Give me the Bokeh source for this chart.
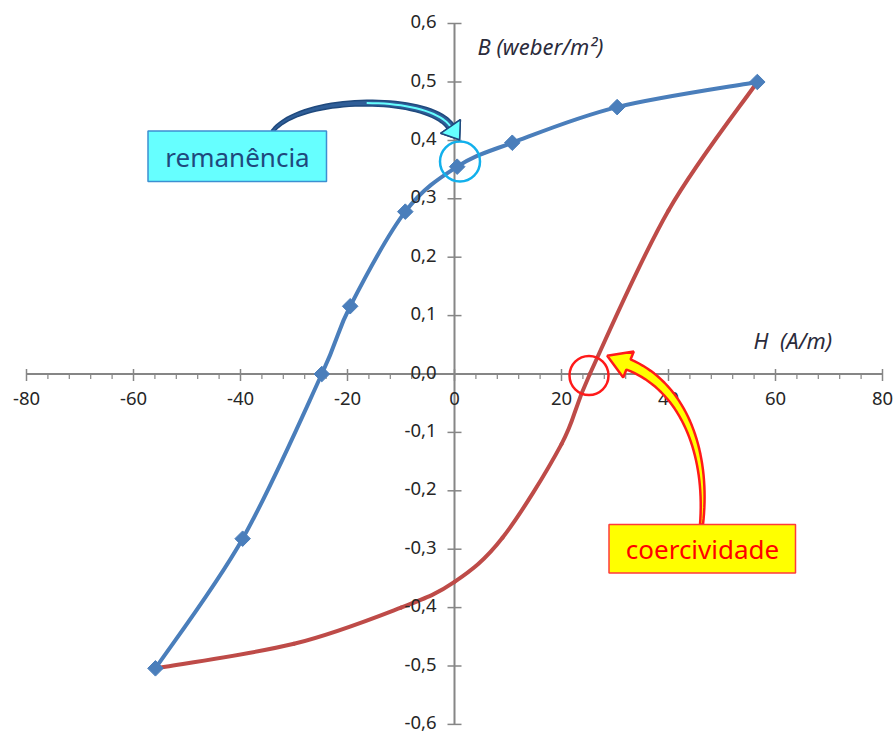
import numpy as np
from bokeh.plotting import figure
from bokeh.models import Range1d
from bokeh.core.properties import value
from bokeh.embed import file_html
from bokeh.resources import INLINE

# --- data -------------------------------------------------------------------
# descending branch of the hysteresis loop (blue, with markers)
H_down = [56.6, 30.4, 10.8, 0.5, -9.2, -19.5, -24.8, -39.6, -55.9]
B_down = [0.50, 0.457, 0.396, 0.355, 0.278, 0.116, 0.0, -0.282, -0.504]
# ascending branch (red, no markers)
H_up = [-55.9, -30.0, -10.0, 0.0, 9.0, 20.0, 25.3, 40.0, 56.6]
B_up = [-0.504, -0.462, -0.40, -0.356, -0.28, -0.12, 0.0, 0.28, 0.50]

x_ticks = [-80, -60, -40, -20, 0, 20, 40, 60, 80]
x_tick_labels = ["-80", "-60", "-40", "-20", "0", "20", "40", "60", "80"]
x_minor_ticks = [v for v in range(-80, 81, 4) if v % 20 != 0]
y_ticks = [-0.6, -0.5, -0.4, -0.3, -0.2, -0.1, 0.0, 0.1, 0.2, 0.3, 0.4, 0.5, 0.6]
y_tick_labels = ["-0,6", "-0,5", "-0,4", "-0,3", "-0,2", "-0,1", "0,0",
                 "0,1", "0,2", "0,3", "0,4", "0,5", "0,6"]

# --- canvas geometry (screen px <-> data) ----------------------------------
W, HGT = 895, 735
ORIGIN_PX, ORIGIN_PY = 454.0, 373.5
SX, SY = 5.35, 584.0          # px per H unit, px per B unit


def dx(px):
    return (px - ORIGIN_PX) / SX


def dy(py):
    return (ORIGIN_PY - py) / SY


p = figure(width=W, height=HGT, output_backend="svg", toolbar_location=None,
           x_range=Range1d(dx(0), dx(W)), y_range=Range1d(dy(HGT), dy(0)),
           x_axis_location=None, y_axis_location=None, min_border=0)
p.xgrid.visible = False
p.ygrid.visible = False
p.outline_line_color = None
p.background_fill_color = "white"
p.border_fill_color = "white"

AXIS = "#868686"
FONT = value("Noto Sans")
TICK_TEXT = "#262626"

# --- axes crossing at the origin -------------------------------------------
p.segment(x0=[x_ticks[0]], y0=[0], x1=[x_ticks[-1]], y1=[0], line_color=AXIS, line_width=2)
p.segment(x0=[0], y0=[y_ticks[0]], x1=[0], y1=[y_ticks[-1]], line_color=AXIS, line_width=2)
# major ticks on H axis cross the line, minor ones hang below it
p.segment(x0=x_ticks, y0=[5 / SY] * len(x_ticks), x1=x_ticks, y1=[-7 / SY] * len(x_ticks),
          line_color=AXIS, line_width=1.5)
p.segment(x0=x_minor_ticks, y0=[0] * len(x_minor_ticks), x1=x_minor_ticks,
          y1=[-5 / SY] * len(x_minor_ticks), line_color=AXIS, line_width=1.2)
p.segment(x0=[-7 / SX] * len(y_ticks), y0=y_ticks, x1=[7 / SX] * len(y_ticks), y1=y_ticks,
          line_color=AXIS, line_width=1.5)


# --- smoothed branches (Catmull-Rom -> cubic Bezier) ------------------------
def smooth(xs, ys):
    pts = np.column_stack([xs, ys]).astype(float)
    ext = np.vstack([pts[0], pts, pts[-1]])
    seg = dict(x0=[], y0=[], x1=[], y1=[], cx0=[], cy0=[], cx1=[], cy1=[])
    for i in range(len(pts) - 1):
        a, b, c, d = ext[i], ext[i + 1], ext[i + 2], ext[i + 3]
        c1 = b + (c - a) / 6.0
        c2 = c - (d - b) / 6.0
        for k, v in zip(["x0", "y0", "x1", "y1", "cx0", "cy0", "cx1", "cy1"],
                        [b[0], b[1], c[0], c[1], c1[0], c1[1], c2[0], c2[1]]):
            seg[k].append(v)
    return seg


BLUE, RED = "#4A7EBB", "#BE4B48"
p.bezier(**smooth(H_up, B_up), line_color=RED, line_width=4, line_cap="round")
p.bezier(**smooth(H_down, B_down), line_color=BLUE, line_width=4, line_cap="round")
p.scatter(H_down, B_down, marker="square", angle=np.pi / 4, size=11,
          fill_color=BLUE, line_color=BLUE)

# --- tick labels --------------------------------------------------------------
p.text(x=x_ticks, y=[0] * len(x_ticks), text=x_tick_labels, text_font=FONT,
       text_font_size="18.5px", text_color=TICK_TEXT, text_align="center",
       text_baseline="middle", y_offset=24)
p.text(x=[0] * len(y_ticks), y=y_ticks, text=y_tick_labels, text_font=FONT,
       text_font_size="18.5px", text_color=TICK_TEXT, text_align="right",
       text_baseline="middle", x_offset=-18, y_offset=-2)

# axis titles
p.text(x=[dx(477)], y=[dy(45)], text=["B (weber/m²)"], text_font=FONT,
       text_font_size="22px", text_font_style="italic", text_color="#2B2B3B",
       text_align="left", text_baseline="middle")
p.text(x=[dx(753)], y=[dy(339)], text=["H\u00a0\u00a0(A/m)"], text_font=FONT,
       text_font_size="22px", text_font_style="italic", text_color="#2B2B3B",
       text_align="left", text_baseline="middle")

# --- highlight circles ----------------------------------------------------------
p.scatter([dx(459.5)], [dy(161)], marker="circle", size=40, fill_alpha=0,
          line_color="#12B0EC", line_width=2.5)
p.scatter([dx(588.5)], [dy(375)], marker="circle", size=39, fill_alpha=0,
          line_color="#FF1A1A", line_width=2.5)


# --- curved block arrows (built in screen px, converted to data) ------------
N_ARROW = 40


def block_arrow(P0, P1, P2, P3, w0, w1, head_len, head_half, n=N_ARROW):
    P0, P1, P2, P3 = (np.array(v, float) for v in (P0, P1, P2, P3))
    t = np.linspace(0, 1, n)[:, None]
    pts = ((1 - t) ** 3) * P0 + 3 * ((1 - t) ** 2) * t * P1 + 3 * (1 - t) * t ** 2 * P2 + t ** 3 * P3
    der = 3 * ((1 - t) ** 2) * (P1 - P0) + 6 * (1 - t) * t * (P2 - P1) + 3 * t ** 2 * (P3 - P2)
    der /= np.linalg.norm(der, axis=1)[:, None]
    nrm = np.column_stack([-der[:, 1], der[:, 0]])
    w = (w0 + (w1 - w0) * t) / 2.0
    left = pts + nrm * w
    right = pts - nrm * w
    d_end, n_end = der[-1], nrm[-1]
    head = np.array([P3 + n_end * head_half, P3 + d_end * head_len, P3 - n_end * head_half])
    poly = np.vstack([left, head, right[::-1]])
    return [dx(v) for v in poly[:, 0]], [dy(v) for v in poly[:, 1]], pts


# remanence arrow: dark blue body with a cyan head
bx, by, bpts = block_arrow((272, 131), (300, 94), (428, 94), (450, 126), 3, 8, 16, 12)
p.patch(bx, by, fill_color="#2F5E98", line_color="#1F497D", line_width=1.5)
inner = bpts[len(bpts) // 2:]
p.line([dx(v) for v in inner[:, 0]], [dy(v) for v in inner[:, 1]],
       line_color="#66FFFF", line_width=2)
p.patch(bx[N_ARROW:N_ARROW + 3], by[N_ARROW:N_ARROW + 3], fill_color="#66FFFF",
        line_color="#1F497D", line_width=1.5)

# coercivity arrow: yellow with red outline
yx, yy, _ = block_arrow((701, 524), (708, 450), (682, 386), (628, 364), 3, 11, 23, 14)
p.patch(yx, yy, fill_color="#FFFF00", line_color="#FF1A1A", line_width=2.5)

# --- label boxes ---------------------------------------------------------------
p.quad(left=[dx(147.5)], right=[dx(326)], top=[dy(130.5)], bottom=[dy(181)],
       fill_color="#66FFFF", line_color="#3D8FD1", line_width=1.5)
p.text(x=[dx(237)], y=[dy(156)], text=["remanência"], text_font=FONT,
       text_font_size="26px", text_color="#1F497D", text_align="center",
       text_baseline="middle")

p.quad(left=[dx(608.5)], right=[dx(795)], top=[dy(524)], bottom=[dy(572.5)],
       fill_color="#FFFF00", line_color="#FF3B3B", line_width=1.5)
p.text(x=[dx(702)], y=[dy(548.5)], text=["coercividade"], text_font=FONT,
       text_font_size="26px", text_color="#FF0000", text_align="center",
       text_baseline="middle")

open("out.html", "w").write(file_html(p, INLINE))
